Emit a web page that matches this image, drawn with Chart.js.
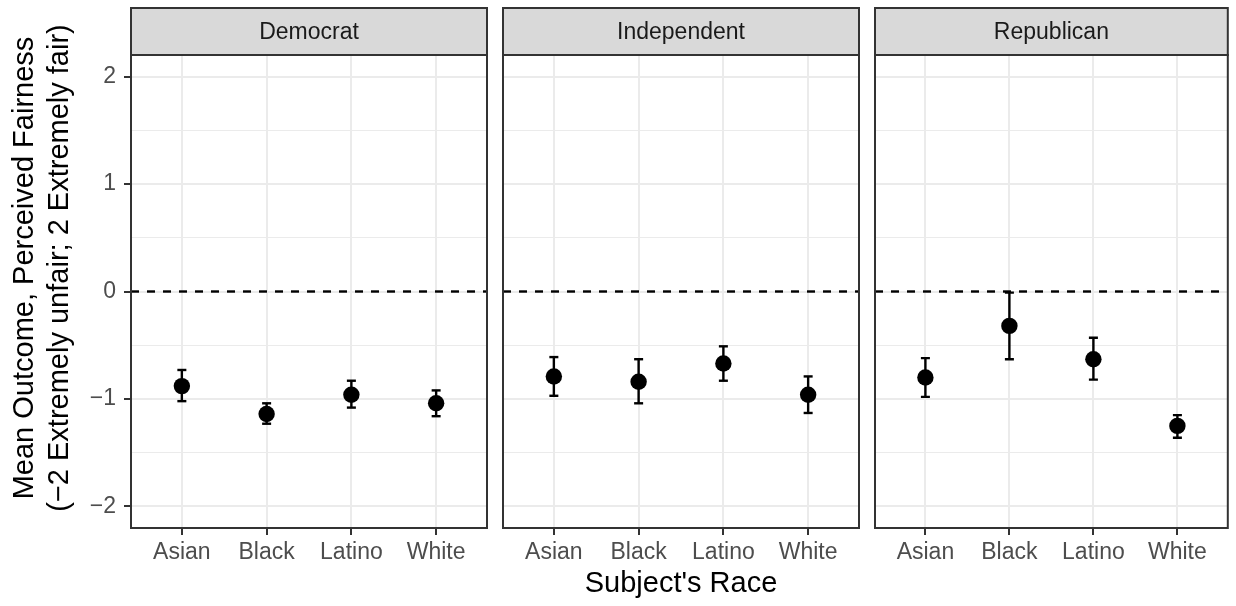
<!DOCTYPE html>
<html lang="en">
<head>
<meta charset="UTF-8">
<title>Perceived fairness by subject's race and party</title>
<script src="https://cdn.jsdelivr.net/npm/chart.js@4.4.1/dist/chart.umd.min.js"></script>
<style>
  html, body { margin:0; padding:0; background:#fff; }
  #wrap { position:relative; width:1236px; height:606px; }
  #wrap canvas { position:absolute; left:0; top:0; }
</style>
</head>
<body>
<div id="wrap">
  <canvas id="chart0" width="1236" height="606"></canvas>
  <canvas id="chart1" width="1236" height="606"></canvas>
  <canvas id="chart2" width="1236" height="606"></canvas>
</div>
<script>
// categories
const races = ['Asian', 'Black', 'Latino', 'White'];
const parties = ['Democrat', 'Independent', 'Republican'];

// mean and interval ends, one array per party
const demMean = [-0.88, -1.14, -0.96, -1.04];
const demLow  = [-1.02, -1.23, -1.08, -1.16];
const demHigh = [-0.73, -1.04, -0.83, -0.92];

const indMean = [-0.79, -0.84, -0.67, -0.96];
const indLow  = [-0.97, -1.04, -0.83, -1.13];
const indHigh = [-0.61, -0.63, -0.51, -0.79];

const repMean = [-0.80, -0.32, -0.63, -1.25];
const repLow  = [-0.98, -0.63, -0.82, -1.36];
const repHigh = [-0.62, -0.01, -0.43, -1.15];

// axis ticks
const yTickValues = [-2, -1, 0, 1, 2];
const yTickLabels = ['\u22122', '\u22121', '0', '1', '2'];
const yMinorValues = [-1.5, -0.5, 0.5, 1.5];
const yMin = -2.2, yMax = 2.2;
const xMin = 0.4, xMax = 4.6;
const refLine = 0;

const yTitle = ['Mean Outcome, Perceived Fairness', '(\u22122 Extremely unfair; 2 Extremely fair)'];
const xTitle = "Subject's Race";

const FONT = '"Liberation Sans", Arial, sans-serif';
const W = 1236, H = 606;
const panelLeft = [131, 503, 875];
const panelWidth = 356;
const stripTop = 8;

// strip, panel border and the y title
const facetFrame = {
  id: 'facetFrame',
  afterDraw(chart, args, opts) {
    const ctx = chart.ctx;
    const a = chart.chartArea;
    ctx.save();
    ctx.fillStyle = '#d9d9d9';
    ctx.fillRect(a.left, stripTop, a.right - a.left, a.top - stripTop);
    ctx.strokeStyle = '#333333';
    ctx.lineWidth = 2;
    ctx.strokeRect(a.left, stripTop, a.right - a.left, a.top - stripTop);
    ctx.strokeRect(a.left, a.top, a.right - a.left, a.bottom - a.top);

    ctx.fillStyle = '#1a1a1a';
    ctx.font = '23px ' + FONT;
    ctx.textAlign = 'center';
    ctx.textBaseline = 'middle';
    ctx.fillText(opts.label, (a.left + a.right) / 2, (stripTop + a.top) / 2 + 1);

    if (opts.yTitle) {
      ctx.fillStyle = '#000';
      ctx.font = '29px ' + FONT;
      ctx.translate(25, (stripTop + a.bottom) / 2);
      ctx.rotate(-Math.PI / 2);
      yTitle.forEach((t, i) => ctx.fillText(t, 0, i * 35));
    }
    ctx.restore();
  }
};

function panelDatasets(mean, low, high) {
  const bars = [];
  races.forEach((r, i) => {
    bars.push({x: i + 1, y: low[i]}, {x: i + 1, y: high[i]}, {x: i + 1, y: null});
  });
  return [
    {
      label: 'zero',
      data: [{x: xMin, y: refLine}, {x: xMax, y: refLine}],
      showLine: true,
      borderColor: '#000',
      borderWidth: 2.4,
      borderDash: [8, 8],
      pointRadius: 0,
      order: 2
    },
    {
      label: 'interval',
      data: bars,
      showLine: true,
      borderColor: '#000',
      borderWidth: 2.4,
      pointStyle: 'line',
      pointRadius: 4.5,
      pointBorderColor: '#000',
      pointBorderWidth: 2.4,
      order: 1
    },
    {
      label: 'mean',
      data: mean.map((v, i) => ({x: i + 1, y: v})),
      pointRadius: 8.2,
      pointBackgroundColor: '#000',
      pointBorderWidth: 0,
      order: 0
    }
  ];
}

const panelData = [
  [demMean, demLow, demHigh],
  [indMean, indLow, indHigh],
  [repMean, repLow, repHigh]
];

panelData.forEach((d, p) => {
  const first = p === 0;
  const left = panelLeft[p];
  const right = left + panelWidth;

  new Chart(document.getElementById('chart' + p), {
    type: 'scatter',
    data: { datasets: panelDatasets(d[0], d[1], d[2]) },
    options: {
      responsive: false,
      animation: false,
      events: [],
      layout: {
        padding: { left: first ? 0 : left, right: W - right, top: 55, bottom: 0 }
      },
      plugins: {
        legend: { display: false },
        tooltip: { enabled: false },
        facetFrame: { label: parties[p], yTitle: first }
      },
      scales: {
        x: {
          type: 'linear',
          min: xMin,
          max: xMax,
          afterBuildTicks: s => { s.ticks = races.map((r, i) => ({value: i + 1})); },
          afterFit: s => { s.height = H - 528; },
          border: { display: false },
          grid: {
            color: '#ebebeb',
            lineWidth: 2,
            tickColor: '#333333',
            tickLength: 7,
            tickWidth: 2
          },
          ticks: {
            autoSkip: false,
            maxRotation: 0,
            padding: 4,
            color: '#4d4d4d',
            font: { family: FONT, size: 23 },
            callback: v => races[v - 1]
          },
          title: {
            display: p === 1,
            text: xTitle,
            color: '#000',
            font: { family: FONT, size: 29 },
            padding: { top: 0, bottom: 4.6 }
          }
        },
        y: {
          type: 'linear',
          min: yMin,
          max: yMax,
          afterBuildTicks: s => {
            s.ticks = yTickValues.concat(yMinorValues).sort((a, b) => a - b).map(v => ({value: v}));
          },
          afterFit: s => { s.width = first ? left : 0; },
          border: { display: false },
          grid: {
            color: '#ebebeb',
            lineWidth: c => yMinorValues.includes(c.tick && c.tick.value) ? 1 : 2,
            drawTicks: first,
            tickLength: 7,
            tickWidth: 2,
            tickColor: c => yMinorValues.includes(c.tick && c.tick.value) ? 'rgba(0,0,0,0)' : '#333333'
          },
          ticks: {
            display: first,
            autoSkip: false,
            padding: 8,
            color: '#4d4d4d',
            font: { family: FONT, size: 23 },
            callback: v => {
              const i = yTickValues.indexOf(v);
              return i >= 0 ? yTickLabels[i] : '';
            }
          }
        }
      }
    },
    plugins: [facetFrame]
  });
});
</script>
</body>
</html>
